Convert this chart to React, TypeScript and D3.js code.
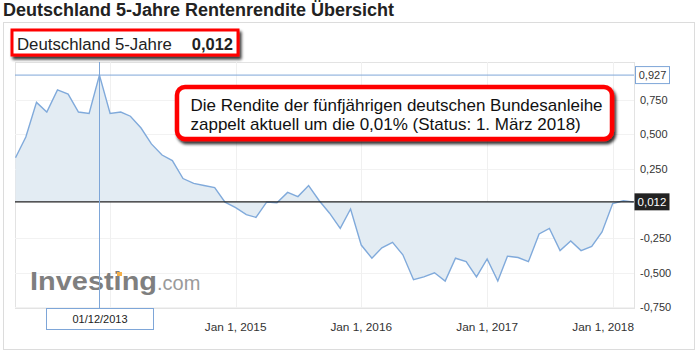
import React from "react";
import * as d3 from "d3";

const title = "Deutschland 5-Jahre Rentenrendite Übersicht";
const seriesName = "Deutschland 5-Jahre";
const currentValue = 0.012;
const peakValue = 0.927;
const peakDate = "2013-12-01";
const peakLabel = "01/12/2013";
const annotationLines = [
  "Die Rendite der fünfjährigen deutschen Bundesanleihe",
  "zappelt aktuell um die 0,01% (Status: 1. März 2018)",
];

const months = [
  "2013-04-01", "2013-05-01", "2013-06-01", "2013-07-01", "2013-08-01", "2013-09-01",
  "2013-10-01", "2013-11-01", "2013-12-01", "2014-01-01", "2014-02-01", "2014-03-01",
  "2014-04-01", "2014-05-01", "2014-06-01", "2014-07-01", "2014-08-01", "2014-09-01",
  "2014-10-01", "2014-11-01", "2014-12-01", "2015-01-01", "2015-02-01", "2015-03-01",
  "2015-04-01", "2015-05-01", "2015-06-01", "2015-07-01", "2015-08-01", "2015-09-01",
  "2015-10-01", "2015-11-01", "2015-12-01", "2016-01-01", "2016-02-01", "2016-03-01",
  "2016-04-01", "2016-05-01", "2016-06-01", "2016-07-01", "2016-08-01", "2016-09-01",
  "2016-10-01", "2016-11-01", "2016-12-01", "2017-01-01", "2017-02-01", "2017-03-01",
  "2017-04-01", "2017-05-01", "2017-06-01", "2017-07-01", "2017-08-01", "2017-09-01",
  "2017-10-01", "2017-11-01", "2017-12-01", "2018-01-01", "2018-02-01", "2018-03-01",
];

const yields = [
  0.33, 0.48, 0.73, 0.66, 0.82, 0.79, 0.66, 0.65, 0.927, 0.65, 0.66, 0.63,
  0.545, 0.43, 0.35, 0.31, 0.18, 0.145, 0.13, 0.115, 0.01, -0.03, -0.08, -0.1,
  0.01, 0.005, 0.08, 0.05, 0.13, 0.02, -0.07, -0.18, -0.04, -0.3, -0.395, -0.32,
  -0.28, -0.37, -0.55, -0.53, -0.5, -0.56, -0.395, -0.42, -0.53, -0.4, -0.56, -0.38,
  -0.39, -0.42, -0.22, -0.18, -0.34, -0.27, -0.34, -0.31, -0.205, 0.0, 0.02, 0.012,
];

const yTicks = [0.75, 0.5, 0.25, -0.25, -0.5, -0.75];
const xGridDates = ["2014-01-01", "2015-01-01", "2016-01-01", "2017-01-01", "2018-01-01"];
const xLabelDates = ["2015-01-01", "2016-01-01", "2017-01-01", "2018-01-01"];
const xTickLabels = ["Jan 1, 2015", "Jan 1, 2016", "Jan 1, 2017", "Jan 1, 2018"];

const FONT = "'Liberation Sans', Arial, Helvetica, sans-serif";
const W = 699;
const H = 361;
const plot = { left: 15, right: 634, top: 62, bottom: 308 };

const de = d3.formatLocale({
  decimal: ",",
  thousands: ".",
  grouping: [3],
  currency: ["", " €"],
  minus: "-",
});
const fmt = de.format(".3f");

export default function App() {
  const parse = d3.utcParse("%Y-%m-%d");
  const data = months.map((m, i) => ({ date: parse(m) as Date, value: yields[i] }));

  const x = d3
    .scaleUtc()
    .domain([data[0].date, data[data.length - 1].date])
    .range([15.5, 633]);
  const y = d3.scaleLinear().domain([-0.75, 0.75]).range([307.4, 99.6]);

  const base = y(currentValue);
  const area = d3
    .area<{ date: Date; value: number }>()
    .x((d) => x(d.date))
    .y0(base)
    .y1((d) => y(d.value));
  const line = d3
    .line<{ date: Date; value: number }>()
    .x((d) => x(d.date))
    .y((d) => y(d.value));

  const px = x(parse(peakDate) as Date);
  const py = y(peakValue);
  const cy = y(currentValue);

  return (
    <svg
      width={W}
      height={H}
      style={{ position: "absolute", left: 0, top: 0, background: "#fff" }}
      fontFamily={FONT}
    >
      <defs>
        <filter id="shadow" x="-10%" y="-30%" width="130%" height="180%">
          <feGaussianBlur in="SourceAlpha" stdDeviation="1.5" />
          <feOffset dx="2" dy="3" result="ob" />
          <feComponentTransfer>
            <feFuncA type="linear" slope="0.8" />
          </feComponentTransfer>
          <feMerge>
            <feMergeNode />
            <feMergeNode in="SourceGraphic" />
          </feMerge>
        </filter>
        <clipPath id="plotclip">
          <rect x={plot.left} y={plot.top} width={plot.right - plot.left} height={plot.bottom - plot.top} />
        </clipPath>
      </defs>
      <rect x={0} y={0} width={W} height={H} fill="#fff" />

      {/* title */}
      <text x={3} y={16} fontSize={18} fontWeight="bold" fill="#222">
        {title}
      </text>

      {/* outer frame */}
      <rect x={3.5} y={22.5} width={691} height={327} fill="none" stroke="#dcdcdc" />

      {/* plot border */}
      <rect
        x={plot.left + 0.5}
        y={plot.top + 0.5}
        width={plot.right - plot.left}
        height={plot.bottom - plot.top}
        fill="#fff"
        stroke="#e3e3e3"
      />

      {/* gridlines */}
      {yTicks.map((t) => (
        <line key={"gy" + t} x1={plot.left} x2={plot.right} y1={Math.round(y(t)) + 0.5} y2={Math.round(y(t)) + 0.5} stroke="#f2f2f2" />
      ))}
      {xGridDates.map((d) => {
        const xx = Math.round(x(parse(d) as Date)) + 0.5;
        return <line key={"gx" + d} x1={xx} x2={xx} y1={plot.top} y2={plot.bottom} stroke="#f0f0f0" />;
      })}

      {/* watermark */}
      <g>
        <text x={30} y={290} fontSize={26} fontWeight="bold" fill="#7f7f7f" textLength={127} lengthAdjust="spacingAndGlyphs">
          Investing
        </text>
        <rect x={117} y={272} width={5} height={4} fill="#f5b04a" />
        <text x={157} y={290} fontSize={20} fill="#9a9a9a">
          .com
        </text>
      </g>

      {/* area + line */}
      <g clipPath="url(#plotclip)">
        <path d={area(data) || ""} fill="#e3ecf3" />
        <path d={line(data) || ""} fill="none" stroke="#80aadb" strokeWidth={1.4} />
      </g>

      {/* current value line */}
      <line x1={plot.left} x2={plot.right} y1={cy} y2={cy} stroke="#222" strokeWidth={1.2} />

      {/* crosshair */}
      <line x1={plot.left} x2={plot.right} y1={py} y2={py} stroke="#7ea6d8" strokeWidth={1} />
      <line x1={Math.round(px) + 0.5} x2={Math.round(px) + 0.5} y1={plot.top} y2={plot.bottom} stroke="#7ea6d8" strokeWidth={1} />

      {/* y tick labels */}
      {yTicks.map((t) => (
        <text key={"yl" + t} x={640} y={y(t) + 4} fontSize={11} fill="#333">
          {fmt(t)}
        </text>
      ))}

      {/* peak value label */}
      <rect x={635.5} y={py - 8.5} width={34} height={17} fill="#fff" stroke="#7ea6d8" />
      <text x={652.5} y={py + 4} fontSize={11} fill="#333" textAnchor="middle">
        {fmt(peakValue)}
      </text>

      {/* current value label */}
      <rect x={634.5} y={cy - 8.5} width={35} height={17} fill="#222" />
      <text x={652} y={cy + 4} fontSize={11.5} fill="#fff" textAnchor="middle">
        {fmt(currentValue)}
      </text>

      {/* x tick labels */}
      {xLabelDates.map((d, i) => {
        const xx = x(parse(d) as Date);
        const over = xx + 31 > plot.right;
        return (
          <text
            key={"xl" + d}
            x={over ? plot.right : xx}
            y={331}
            fontSize={11.8}
            fill="#333"
            textAnchor={over ? "end" : "middle"}
          >
            {xTickLabels[i]}
          </text>
        );
      })}

      {/* crosshair date label */}
      <rect x={46.5} y={308.5} width={107} height={21} fill="#fff" stroke="#7ea6d8" />
      <text x={100} y={323} fontSize={11} fill="#222" textAnchor="middle">
        {peakLabel}
      </text>

      {/* legend box (red highlight) */}
      <rect x={12} y={30} width={226} height={25} fill="#fff" stroke="#ff0000" strokeWidth={3} filter="url(#shadow)" />
      <text x={17} y={49.5} fontSize={16.8} fill="#222">
        {seriesName}
      </text>
      <text x={233} y={49.5} fontSize={16.5} fontWeight="bold" fill="#222" textAnchor="end">
        {fmt(currentValue)}
      </text>

      {/* annotation box */}
      <rect x={177} y={87} width={435} height={52} rx={8} fill="#fff" stroke="#ff0000" strokeWidth={4.5} filter="url(#shadow)" />
      {annotationLines.map((l, i) => (
        <text key={"an" + i} x={190.5} y={111 + i * 19} fontSize={17} fill="#111">
          {l}
        </text>
      ))}
    </svg>
  );
}
